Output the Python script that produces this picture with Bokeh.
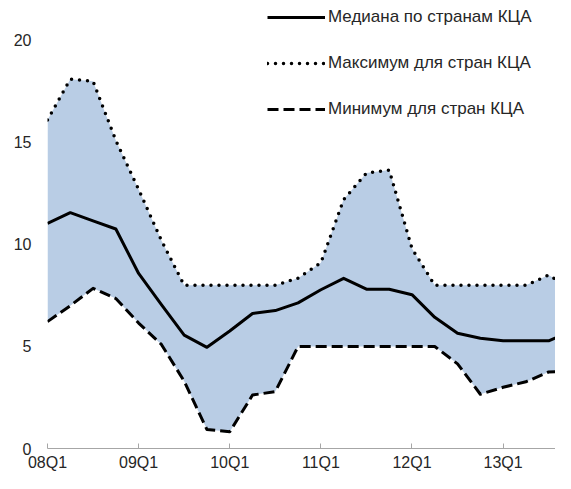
from bokeh.plotting import figure
from bokeh.models import ColumnDataSource, FixedTicker, Legend, LegendItem, Range1d
from bokeh.embed import file_html
from bokeh.resources import INLINE

quarters = ["08Q1", "08Q2", "08Q3", "08Q4", "09Q1", "09Q2", "09Q3", "09Q4",
            "10Q1", "10Q2", "10Q3", "10Q4", "11Q1", "11Q2", "11Q3", "11Q4",
            "12Q1", "12Q2", "12Q3", "12Q4", "13Q1", "13Q2", "13Q3", "13Q4"]
median = [11.03, 11.56, 11.16, 10.76, 8.58, 7.05, 5.56, 4.96, 5.76, 6.62, 6.76, 7.14,
          7.78, 8.34, 7.81, 7.81, 7.54, 6.43, 5.65, 5.40, 5.28, 5.28, 5.28, 5.75]
maximum = [16.1, 18.1, 18.0, 15.1, 12.7, 10.2, 8.0, 8.0, 8.0, 8.0, 8.0, 8.35,
           9.1, 12.2, 13.5, 13.65, 9.8, 8.0, 8.0, 8.0, 8.0, 8.0, 8.5, 7.8]
minimum = [6.22, 7.0, 7.85, 7.35, 6.15, 5.1, 3.3, 0.93, 0.82, 2.62, 2.79, 5.0,
           5.0, 5.0, 5.0, 5.0, 5.0, 5.0, 4.15, 2.66, 3.0, 3.27, 3.75, 3.78]
tick_labels = ["08Q1", "09Q1", "10Q1", "11Q1", "12Q1", "13Q1"]
y_ticks = [0, 5, 10, 15, 20]
series_names = ["Медиана по странам КЦА", "Максимум для стран КЦА", "Минимум для стран КЦА"]

x = [quarters.index(q) for q in quarters]
src = ColumnDataSource(dict(x=x, med=median, mx=maximum, mn=minimum))

FONT = "Liberation Sans"
FRAME_H = 449

p = figure(width=555, height=473, output_backend="svg", toolbar_location=None,
           x_range=Range1d(0, 22.3), y_range=Range1d(0, 21.96),
           min_border_left=47, min_border_right=0, min_border_top=0, min_border_bottom=24)
p.outline_line_color = None
p.xgrid.visible = False
p.ygrid.visible = False
p.background_fill_color = "white"
p.border_fill_color = "white"

p.varea(x="x", y1="mn", y2="mx", source=src, fill_color="#B9CDE5", fill_alpha=1.0)
r_med = p.line(x="x", y="med", source=src, line_color="black", line_width=3, line_join="round")
r_max = p.line(x="x", y="mx", source=src, line_color="black", line_width=3.5,
               line_dash="0 8", line_cap="round", line_join="round")
r_min = p.line(x="x", y="mn", source=src, line_color="black", line_width=3,
               line_dash="11 5", line_join="round")

# x axis
xa = p.xaxis[0]
xa.ticker = FixedTicker(ticks=[quarters.index(t) for t in tick_labels])
xa.major_label_overrides = {quarters.index(t): t for t in tick_labels}
xa.axis_line_color = "#A6A6A6"
xa.major_tick_line_color = "#A6A6A6"
xa.major_tick_in = 5
xa.major_tick_out = 0
xa.minor_tick_line_color = None
xa.major_label_text_font = FONT
xa.major_label_text_font_size = "16px"
xa.major_label_text_color = "#262626"
xa.major_label_standoff = 5

# y axis
ya = p.yaxis[0]
ya.ticker = FixedTicker(ticks=y_ticks)
ya.axis_line_color = None
ya.major_tick_line_color = None
ya.minor_tick_line_color = None
ya.major_tick_in = 0
ya.major_tick_out = 0
ya.major_label_text_font = FONT
ya.major_label_text_font_size = "16px"
ya.major_label_text_color = "#262626"
ya.major_label_standoff = 16

legend = Legend(items=[LegendItem(label=series_names[0], renderers=[r_med]),
                       LegendItem(label=series_names[1], renderers=[r_max]),
                       LegendItem(label=series_names[2], renderers=[r_min])],
                location=(220, FRAME_H - 8 - 112), orientation="vertical",
                glyph_width=58, glyph_height=20, label_height=20, label_standoff=3,
                spacing=26, padding=0, margin=0,
                border_line_color=None, background_fill_alpha=0,
                label_text_font=FONT, label_text_font_size="17px", label_text_color="#262626")
p.add_layout(legend)

open("out.html", "w").write(file_html(p, INLINE))
